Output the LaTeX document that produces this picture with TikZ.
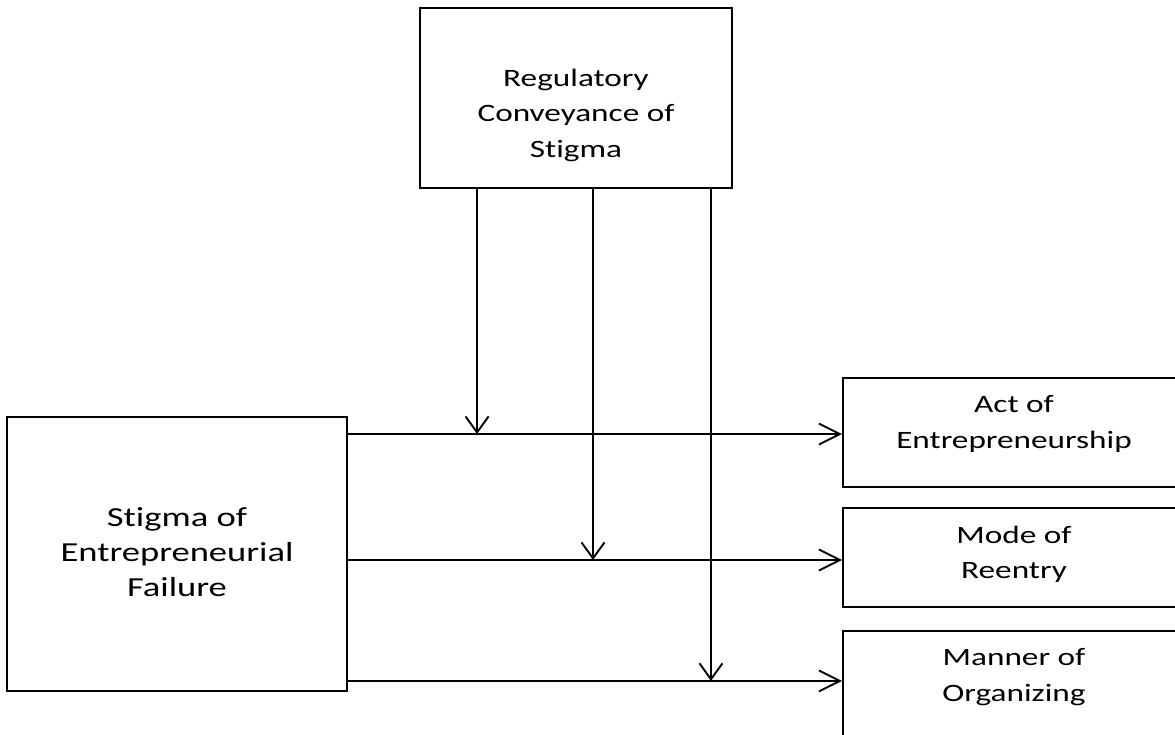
\documentclass[tikz,border=0pt]{standalone}
\usepackage{fontspec}
\setmainfont[FakeStretch=1.33,Ligatures=NoCommon]{Carlito}
\usetikzlibrary{arrows.meta,positioning}

\tikzset{
  box/.style={draw, line width=1.9pt, rectangle, inner sep=0pt},
  txt/.style={align=center, inner sep=0pt, font=\fontsize{25}{35.5}\selectfont},
  bigtxt/.style={txt, font=\fontsize{27.5}{35}\selectfont},
  vflow/.style={line width=1.9pt, -{Straight Barb[length=16pt,width=23pt,line width=1.9pt]}},
  hflow/.style={line width=1.9pt, -{Straight Barb[length=21pt,width=21pt,line width=1.9pt]}}
}

\begin{document}
\begin{tikzpicture}[x=1pt,y=-1pt]
  \useasboundingbox (0,0) rectangle (1175,735);
  \clip (0,0) rectangle (1175,735);

  %% moderator
  \node[box, minimum width=312pt, minimum height=180pt] (reg) at (576,98) {};
  \node[txt] (reglbl) at ([yshift=-17pt]reg.center) {Regulatory\\Conveyance of\\Stigma};

  %% antecedent
  \node[box, minimum width=340pt, minimum height=274pt] (fail) at (177,554) {};
  \node[bigtxt] (faillbl) at ([yshift=2pt]fail.center) {Stigma of\\Entrepreneurial\\Failure};

  %% outcomes
  \node[box, minimum width=342pt, minimum height=109pt] (act) at (1014,432.5) {};
  \node[box, minimum width=342pt, minimum height=99pt] (mode) at (1014,557.5) {};
  \node[box, minimum width=342pt, minimum height=109pt] (org) at (1014,685.5) {};

  \node[txt, below=18.5pt of act.north] (actlbl) {Act of\\Entrepreneurship};
  \node[txt, below=18.5pt of mode.north] (modelbl) {Mode of\\Reentry};
  \node[txt, below=18.5pt of org.north] (orglbl) {Manner of\\Organizing};

  %% main paths
  \coordinate (f1) at ([yshift=-18pt]fail.north east);
  \coordinate (f2) at ([yshift=-6pt]fail.east);
  \coordinate (f3) at ([yshift=11pt]fail.south east);
  \draw[hflow] (f1) -- (f1 -| act.west);
  \draw[hflow] (f2) -- (f2 -| mode.west);
  \draw[hflow] (f3) -- (f3 -| org.west);

  %% moderating paths
  \coordinate (r1) at ([xshift=58pt]reg.south west);
  \coordinate (r2) at ([xshift=17pt]reg.south);
  \coordinate (r3) at ([xshift=-22pt]reg.south east);
  \draw[vflow] (r1) -- (r1 |- f1);
  \draw[vflow] (r2) -- (r2 |- f2);
  \draw[vflow] (r3) -- (r3 |- f3);

\end{tikzpicture}
\end{document}
